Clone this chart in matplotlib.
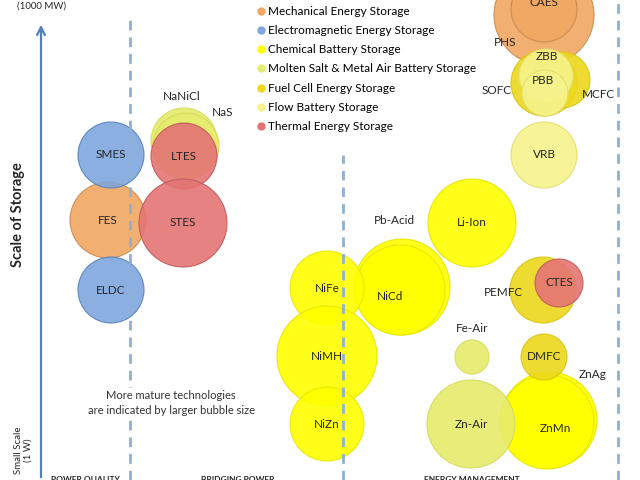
import matplotlib.pyplot as plt
from matplotlib.patches import Circle
from matplotlib.lines import Line2D

plt.rcParams['font.family'] = ['Lato', 'DejaVu Sans']

# chart units: x = application position, y = scale of storage (0 = small scale)
W, H = 640, 480

# category -> (fill, edge)
categories = ["Mechanical Energy Storage", "Electromagnetic Energy Storage",
              "Chemical Battery Storage", "Molten Salt & Metal Air Battery Storage",
              "Fuel Cell Energy Storage", "Flow Battery Storage", "Thermal Energy Storage"]
cat_fill = ["#F0A862", "#7FA6DE", "#FFFF00", "#E6EC6C", "#EDD81C", "#F6F38C", "#E47474"]
cat_edge = ["#C98A4E", "#5B80B6", "#E6E600", "#D6DA58", "#D8C414", "#E4DE70", "#C25A5A"]

# bubbles (drawn in this order)
names = ["PHS", "CAES", "SOFC", "MCFC", "ZBB", "PBB", "VRB",
         "FES", "SMES", "ELDC", "NaNiCl", "NaS", "LTES", "STES",
         "Li-Ion", "Pb-Acid", "NiCd", "NiFe", "NiMH", "NiZn",
         "PEMFC", "CTES", "Fe-Air", "ZnAg", "ZnMn", "DMFC", "Zn-Air"]
cat_idx = [0, 0, 4, 4, 5, 5, 5,
           0, 1, 1, 3, 3, 6, 6,
           2, 2, 2, 2, 2, 2,
           4, 6, 3, 2, 2, 4, 3]
bx = [544, 544, 544, 562, 546, 545, 544,
      108, 111, 111, 184, 186, 184, 183,
      472, 402, 400, 327, 327, 327,
      543, 559, 472, 549, 547, 544, 471]
by = [465, 471, 397, 400, 404, 387, 325,
      260, 325, 190, 339, 334, 324, 257,
      257, 193, 190, 192, 124, 56,
      190, 197, 123, 60, 58, 123, 56]
br = [50, 33, 33, 28, 27, 23, 33,
      38, 33, 33, 33, 33, 33, 44,
      44, 48, 45, 37, 50, 37,
      33, 24, 17, 48, 47, 23, 44]

# label text positions for bubbles whose label sits outside the bubble
outside_labels = {"CAES": (544, 478), "PHS": (505, 437), "SOFC": (497, 390),
                  "MCFC": (598, 385), "ZBB": (547, 423), "PBB": (543, 400),
                  "NaNiCl": (182, 383), "NaS": (223, 367), "Pb-Acid": (394, 260),
                  "NiCd": (390, 184), "PEMFC": (503, 187), "Fe-Air": (472, 151),
                  "ZnAg": (593, 106), "ZnMn": (555, 52)}

sections = ["POWER QUALITY", "BRIDGING POWER", "ENERGY MANAGEMENT"]
section_x = [85, 238, 472]
divider_x = [130, 343, 618]
divider_top = [463, 325, 480]

fig = plt.figure(figsize=(6.4, 4.8), dpi=100)
ax = fig.add_axes([0, 0, 1, 1])
ax.set_xlim(0, W)
ax.set_ylim(0, H)
ax.axis('off')

for i, name in enumerate(names):
    c = cat_idx[i]
    ax.add_patch(Circle((bx[i], by[i]), br[i], facecolor=cat_fill[c],
                        edgecolor=cat_edge[c], linewidth=0.8, alpha=0.9, zorder=2 + i * 0.01))
    tx, ty = outside_labels.get(name, (bx[i], by[i]))
    ax.text(tx, ty, name, ha='center', va='center', fontsize=8.5, color='#262626', zorder=5)

# dashed section dividers
for x, top in zip(divider_x, divider_top):
    ax.plot([x, x], [0, top], color='#8FB0D6', linewidth=2, linestyle=(0, (3.5, 2.5)), zorder=4)

# vertical scale arrow
ax.annotate("", xy=(41, 458), xytext=(41, 0),
            arrowprops=dict(arrowstyle='->', color='#4F81BD', linewidth=1.6,
                            mutation_scale=14), zorder=4)
ax.text(42, 474, "(1000 MW)", ha='center', va='center', fontsize=7, color='#262626')
ax.text(18, 265, "Scale of Storage", rotation=90, ha='center', va='center',
        fontsize=10.5, fontweight='bold', color='#262626')
ax.text(23, 30, "Small Scale\n(1 W)", rotation=90, ha='center', va='center',
        fontsize=7, color='#262626', linespacing=1.1)

for s, x in zip(sections, section_x):
    ax.text(x, 4, s, ha='center', va='top', fontsize=6, fontweight='bold', color='#262626')

ax.text(171, 77, "More mature technologies\nare indicated by larger bubble size",
        ha='center', va='center', fontsize=8, color='#333333', linespacing=1.35,
        bbox=dict(facecolor='white', edgecolor='none', pad=2), zorder=4.5)

handles = [Line2D([], [], marker='o', linestyle='none', markersize=5,
                  markerfacecolor=f, markeredgecolor=f) for f in cat_fill]
ax.legend(handles, categories, loc='upper left', bbox_to_anchor=(250 / W, 0.998),
          frameon=False, fontsize=8.5, labelspacing=0.7, handletextpad=0.15,
          handlelength=1.0, borderaxespad=0)

fig.savefig("out.png", dpi=100)
